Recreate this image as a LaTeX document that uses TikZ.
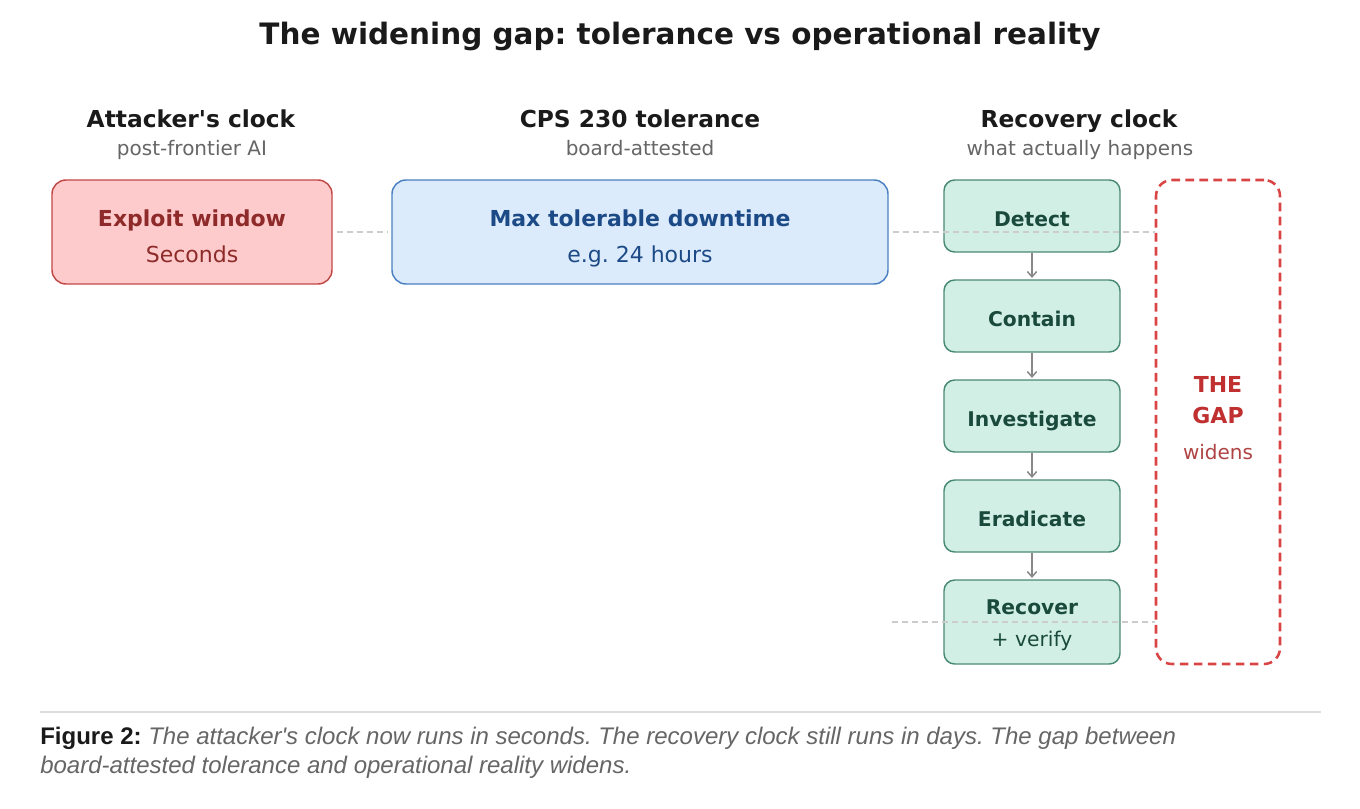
\documentclass[tikz,border=0pt]{standalone}
\usepackage{fontspec}
\setmainfont{DejaVu Sans}[Ligatures=TeXOff]
\newfontfamily\capfont{Liberation Sans}
\usetikzlibrary{arrows.meta,fit}
\frenchspacing
\definecolor{titlec}{HTML}{1A1A1A}
\definecolor{subc}{HTML}{666666}
\definecolor{redfill}{HTML}{FDCBCB}
\definecolor{redline}{HTML}{C04848}
\definecolor{redtext}{HTML}{8E2A2A}
\definecolor{bluefill}{HTML}{DCEBFB}
\definecolor{blueline}{HTML}{4A80C0}
\definecolor{bluetext}{HTML}{1C4A86}
\definecolor{greenfill}{HTML}{D1EFE5}
\definecolor{greenline}{HTML}{4A8A72}
\definecolor{greentext}{HTML}{1A4A3C}
\definecolor{gapline}{HTML}{D94545}
\definecolor{gaptext}{HTML}{C03030}
\definecolor{gapsub}{HTML}{B04444}
\definecolor{guidec}{HTML}{CCCCCC}
\definecolor{arrowc}{HTML}{888888}
\definecolor{sepc}{HTML}{DDDDDD}
\definecolor{capc}{HTML}{666666}
\tikzset{
  boxbase/.style={inner sep=0pt, line width=1.1pt},
  redbox/.style={boxbase, draw=redline, fill=redfill, rounded corners=10.5pt},
  bluebox/.style={boxbase, draw=blueline, fill=bluefill, rounded corners=10.5pt},
  greenbox/.style={boxbase, draw=greenline, fill=greenfill, rounded corners=8pt},
  gapbox/.style={inner sep=0pt, draw=gapline, line width=1.9pt, rounded corners=12pt, dash pattern=on 6.5pt off 4pt},
  guide/.style={draw=guidec, line width=1.1pt, dash pattern=on 4.5pt off 3pt},
  arr/.style={draw=arrowc, line width=1.1pt, -{Straight Barb[length=4pt,width=7pt,line width=1.1pt]}},
  txt/.style={anchor=base, inner sep=0pt},
  titlef/.style={txt, text=titlec, font=\bfseries\fontsize{22.1}{27}\selectfont},
  headf/.style={txt, text=titlec, font=\bfseries\fontsize{17.5}{21}\selectfont},
  subf/.style={txt, text=subc, font=\fontsize{15}{18}\selectfont},
  boldf/.style={txt, font=\bfseries\fontsize{16.5}{20}\selectfont},
  regf/.style={txt, font=\fontsize{16.5}{20}\selectfont},
  gboldf/.style={txt, text=greentext, font=\bfseries\fontsize{15.2}{19}\selectfont},
  gregf/.style={txt, text=greentext, font=\fontsize{15.2}{19}\selectfont},
  capf/.style={anchor=base west, inner sep=0pt, text=capc, font=\capfont\fontsize{18}{22}\selectfont},
}
\begin{document}
\begin{tikzpicture}[x=0.75pt,y=-0.75pt]
\useasboundingbox[fill=white] (0,0) rectangle (1360,808);

% title
\node[titlef] (title) at (680,44) {The widening gap: tolerance vs operational reality};

% column headings
\node[headf] (h1) at (191,127) {Attacker's clock};
\node[subf] (s1) at (192,155) {post-frontier AI};
\node[headf] (h2) at (640,127) {CPS 230 tolerance};
\node[subf] (s2) at (640,155) {board-attested};
\node[headf] (h3) at (1079,127) {Recovery clock};
\node[subf] (s3) at (1080,155) {what actually happens};

% boxes
\node[redbox, fit={(52,180)(332,284)}] (exploit) {};
\node[boldf, text=redtext] (exploitA) at (192,226) {Exploit window};
\node[regf, text=redtext] (exploitB) at (192,262) {Seconds};

\node[bluebox, fit={(392,180)(888,284)}] (maxbox) {};
\node[boldf, text=bluetext] (maxA) at (640,226) {Max tolerable downtime};
\node[regf, text=bluetext] (maxB) at (640,262) {e.g. 24 hours};

\node[greenbox, fit={(944,180)(1120,252)}] (detect) {};
\node[greenbox, fit={(944,280)(1120,352)}] (contain) {};
\node[greenbox, fit={(944,380)(1120,452)}] (investigate) {};
\node[greenbox, fit={(944,480)(1120,552)}] (eradicate) {};
\node[greenbox, fit={(944,580)(1120,664)}] (recover) {};
\node[gboldf] (detectT) at (1032,226) {Detect};
\node[gboldf] (containT) at (1032,326) {Contain};
\node[gboldf] (investigateT) at (1032,426) {Investigate};
\node[gboldf] (eradicateT) at (1032,526) {Eradicate};
\node[gboldf] (recoverA) at (1032,614) {Recover};
\node[gregf] (recoverB) at (1032,646) {+ verify};

\node[gapbox, fit={(1156,180)(1280,664)}] (gap) {};
\node[boldf, text=gaptext] (gapA) at (1218,392) {THE};
\node[boldf, text=gaptext] (gapB) at (1218,423) {GAP};
\node[subf, text=gapsub] (gapC) at (1218,459) {widens};

% arrows
\draw[arr] (detect.south) -- ([yshift=1pt]contain.north);
\draw[arr] (contain.south) -- ([yshift=1pt]investigate.north);
\draw[arr] (investigate.south) -- ([yshift=1pt]eradicate.north);
\draw[arr] (eradicate.south) -- ([yshift=1pt]recover.north);

% guide lines
\coordinate (g1) at (892,622);
\draw[guide] ([xshift=3pt]exploit.east) -- ([xshift=-3pt]maxbox.west);
\draw[guide] ([xshift=3pt]maxbox.east) -- (gap.west |- maxbox.east);
\draw[guide] (g1) -- (gap.west |- g1);

% separator and caption
\coordinate (sepL) at (40,712);
\coordinate (sepR) at (1321,712);
\draw[sepc, line width=0.8pt] (sepL) -- (sepR);
\node[capf] (cap1) at (40,744.5) {\textcolor{titlec}{\bfseries Figure 2:} \itshape The attacker's clock now runs in seconds. The recovery clock still runs in days. The gap between};
\node[capf] (cap2) at (40,773.5) {\itshape board-attested tolerance and operational reality widens.};
\end{tikzpicture}
\end{document}
